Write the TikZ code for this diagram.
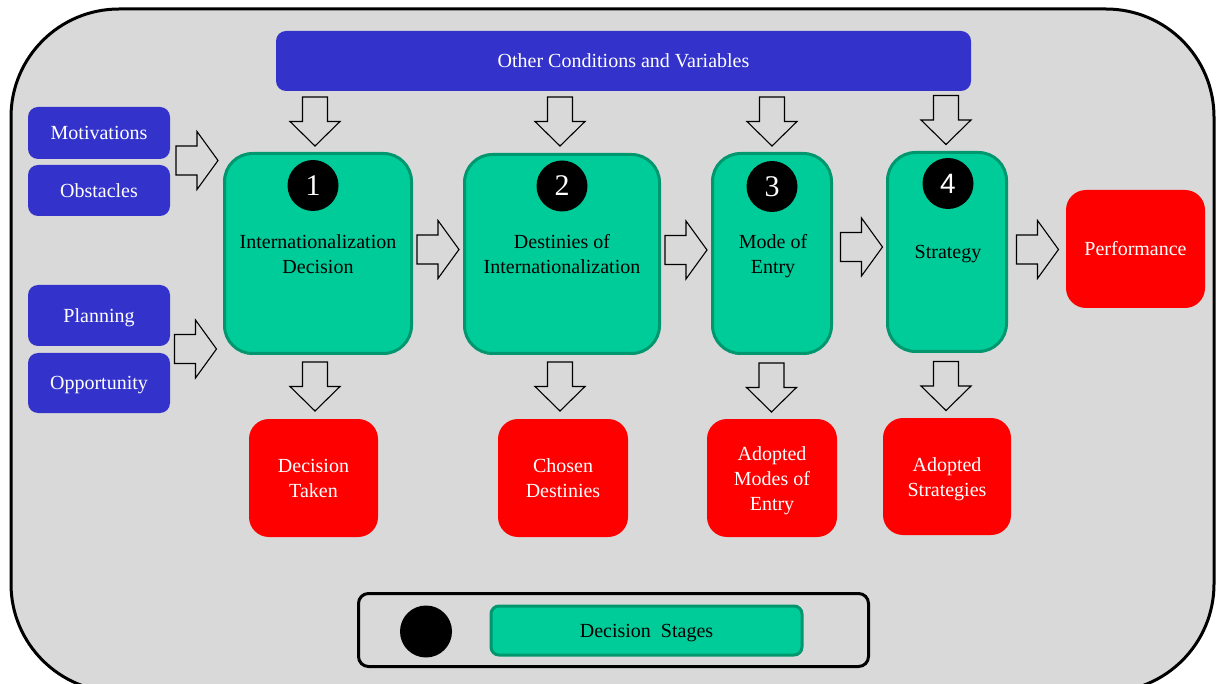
\documentclass[tikz,border=0pt]{standalone}
\usepackage{fontspec}
\setmainfont{Liberation Serif}
\newfontfamily\numsans{Liberation Sans}
\usetikzlibrary{calc}
\definecolor{bg}{HTML}{D9D9D9}
\definecolor{dblue}{HTML}{3333CC}
\definecolor{sgreen}{HTML}{00CC99}
\definecolor{sgreenb}{HTML}{00976F}
\definecolor{rred}{HTML}{FF0000}
\tikzset{
  txt/.style={font=\fontsize{20}{25}\selectfont, align=center, inner sep=0pt, text height=14pt, text depth=0pt},
  twolines/.style={text height=39pt, text depth=0pt},
  threelines/.style={text height=64pt, text depth=0pt},
  bluebox/.style={txt, fill=dblue, text=white, rounded corners=10pt, minimum width=142pt},
  greenbox/.style={fill=sgreen, draw=sgreenb, line width=3pt, rounded corners=28pt, inner sep=0pt},
  redbox/.style={txt, fill=rred, text=white, rounded corners=20pt},
  numcirc/.style={circle, fill=black, text=white, minimum size=51pt, inner sep=0pt, font=\fontsize{30}{30}\selectfont},
  arrowline/.style={draw=black, line width=1.1pt, fill=bg, line join=miter},
  rarr/.pic={\path[arrowline] (-21,-14.5) -- (0,-14.5) -- (0,-29) -- (21,0) -- (0,29) -- (0,14.5) -- (-21,14.5) -- cycle;},
  darr/.pic={\path[arrowline] (-12.5,-24.5) -- (12.5,-24.5) -- (12.5,0) -- (25,0) -- (0,24.5) -- (-25,0) -- (-12.5,0) -- cycle;}
}
\begin{document}
\begin{tikzpicture}[x=1pt,y=-1pt]
\useasboundingbox (0,0) rectangle (1218,684);
\clip (0,0) rectangle (1218,684);
% outer frame
\draw[line width=3pt, fill=bg, rounded corners=108pt] (11,9) rectangle (1214,692);

% top bar
\node[txt, fill=dblue, text=white, rounded corners=10pt, minimum width=695pt, minimum height=60pt] (cond) at (623.5,61) {Other Conditions and Variables};

% left inputs
\node[bluebox, minimum height=52pt] (mot) at (99,133) {Motivations};
\node[bluebox, minimum height=51pt] (obs) at (99,190.5) {Obstacles};
\node[bluebox, minimum height=61pt] (plan) at (99,315.5) {Planning};
\node[bluebox, minimum height=60pt] (opp) at (99,383) {Opportunity};

% decision stages
\node[greenbox, minimum width=187pt, minimum height=200pt] (g1) at (318,253.5) {};
\node[greenbox, minimum width=195pt, minimum height=199pt] (g2) at (562,254) {};
\node[greenbox, minimum width=119pt, minimum height=200pt] (g3) at (772,253.5) {};
\node[greenbox, minimum width=119pt, minimum height=199pt] (g4) at (947,252) {};

\node[numcirc] (n1) at (313,185.5) {1};
\node[numcirc] (n2) at (562,186) {2};
\node[numcirc] (n3) at (772,186.5) {3};
\node[numcirc, font=\numsans\fontsize{28}{28}\selectfont] (n4) at (948,183.5) {4};

\node[txt, twolines] (t1) at (318,254.5) {Internationalization\\Decision};
\node[txt, twolines] (t2) at (562,254) {Destinies of\\Internationalization};
\node[txt, twolines] (t3) at (773,254) {Mode of\\Entry};
\node[txt] (t4) at (948,252) {Strategy};

% results
\node[redbox, twolines, minimum width=129pt, minimum height=118pt] (r1) at (313.5,478) {Decision\\Taken};
\node[redbox, twolines, minimum width=130pt, minimum height=118pt] (r2) at (563,478) {Chosen\\Destinies};
\node[redbox, threelines, minimum width=130pt, minimum height=118pt] (r3) at (772,478) {Adopted\\Modes of\\Entry};
\node[redbox, twolines, minimum width=128pt, minimum height=117pt] (r4) at (947,476.5) {Adopted\\Strategies};
\node[redbox, minimum width=139pt, minimum height=118pt] (perf) at (1135.5,249) {Performance};

% block arrows
\pic at (197,160.5) {rarr};
\pic at (195.5,349) {rarr};
\pic at (438,249.5) {rarr};
\pic at (686,250) {rarr};
\pic at (861.5,247) {rarr};
\pic at (1037.5,249.5) {rarr};

\pic at (315,121.5) {darr};
\pic at (560,121.5) {darr};
\pic at (772,121.5) {darr};
\pic at (946,120) {darr};

\pic at (315,386.5) {darr};
\pic at (560,386.5) {darr};
\pic at (771.5,387.5) {darr};
\pic at (946,386) {darr};

% legend
\node[draw=black, line width=3pt, fill=bg, rounded corners=10pt, minimum width=510pt, minimum height=73pt, inner sep=0pt] (leg) at (613.5,630) {};
\node[circle, fill=black, minimum size=52pt, inner sep=0pt] (legc) at (426,631.5) {};
\node[txt, fill=sgreen, draw=sgreenb, line width=3pt, rounded corners=8pt, minimum width=311pt, minimum height=49pt, text=black] (legg) at (646.5,630.5) {Decision\ \ Stages};
\end{tikzpicture}
\end{document}
